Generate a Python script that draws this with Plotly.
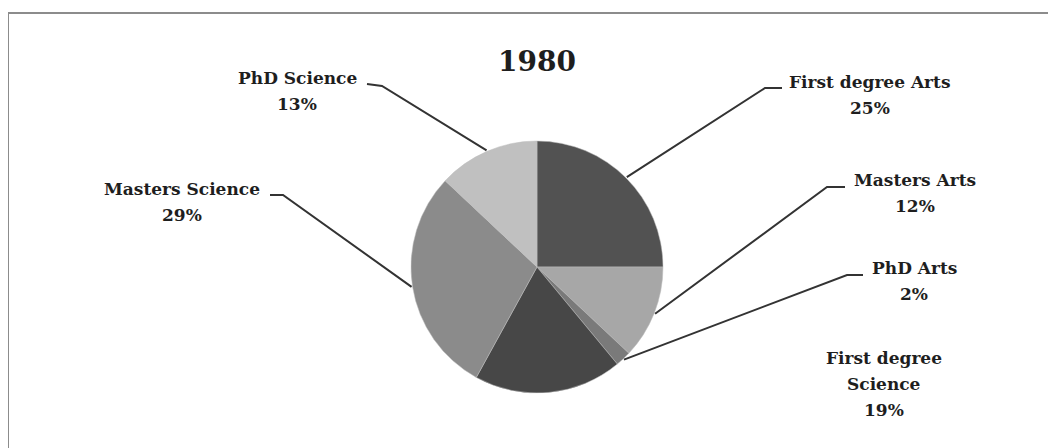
import math
import plotly.graph_objects as go

# ---- data ----
categories = ["First degree Arts", "Masters Arts", "PhD Arts",
              "First degree Science", "Masters Science", "PhD Science"]
values = [25, 12, 2, 19, 29, 13]
label_lines = [["First degree Arts"], ["Masters Arts"], ["PhD Arts"],
               ["First degree", "Science"], ["Masters Science"], ["PhD Science"]]
colors = ["#525252", "#a7a7a7", "#7a7a7a", "#474747", "#8b8b8b", "#c0c0c0"]
title_text = "1980"

# ---- layout (window pixels; the page body has an 8px margin) ----
OFF = 8
W, H = 1056 - OFF, 448 - OFF
CX, CY, R = 537, 267, 126
FONT = "DejaVu Serif"
TXT = "#1e1e1e"
LINE = "#333333"

# label centre (first line) and leader elbow / end points, per slice (None = no leader)
label_pos = [(870, 82), (915, 180), (914, 268), (884, 358), (182, 189), (297, 78)]
leader_pts = [((765, 88), (782, 88)), ((827, 187), (845, 187)), ((847, 275), (863, 275)),
              None, ((283, 195), (270, 195)), ((382, 86), (367, 84))]
LINE_GAP = 26


def px(x):
    return (x - OFF) / W


def py(y):
    return 1 - (y - OFF) / H


fig = go.Figure(go.Pie(
    labels=categories, values=values, sort=False, direction="clockwise",
    rotation=0, textinfo="none", hoverinfo="label+percent",
    marker=dict(colors=colors, line=dict(color="#bdbdbd", width=0.5)),
    domain=dict(x=[px(CX - R), px(CX + R)], y=[py(CY + R), py(CY - R)]),
    showlegend=False,
))

annotations = [dict(text=f"<b>{title_text}</b>", x=px(CX), y=py(61), xref="paper", yref="paper",
                    showarrow=False, font=dict(family=FONT, size=28, color=TXT),
                    xanchor="center", yanchor="middle")]
shapes = [dict(type="rect", xref="paper", yref="paper", x0=px(8), x1=px(1070),
               y0=py(470), y1=py(13), line=dict(color="#8c8c8c", width=2))]

total = sum(values)
cum = 0
for i, v in enumerate(values):
    pct = round(100 * v / total)
    lines = label_lines[i] + [f"{pct}%"]
    lx, ly = label_pos[i]
    for k, t in enumerate(lines):
        annotations.append(dict(text=f"<b>{t}</b>", x=px(lx), y=py(ly + k * LINE_GAP),
                                xref="paper", yref="paper", showarrow=False,
                                font=dict(family=FONT, size=17, color=TXT),
                                xanchor="center", yanchor="middle"))
    mid = (cum + v / 2) / total * 2 * math.pi
    cum += v
    if leader_pts[i] is not None:
        sx = CX + (R + 1) * math.sin(mid)
        sy = CY - (R + 1) * math.cos(mid)
        (ex, ey), (fx, fy) = leader_pts[i]
        path = f"M {px(sx)},{py(sy)} L {px(ex)},{py(ey)} L {px(fx)},{py(fy)}"
        shapes.append(dict(type="path", xref="paper", yref="paper", path=path,
                           line=dict(color=LINE, width=2)))

fig.update_layout(width=W, height=H, margin=dict(l=0, r=0, t=0, b=0),
                  paper_bgcolor="white", plot_bgcolor="white",
                  annotations=annotations, shapes=shapes)
fig.write_html("out.html")
